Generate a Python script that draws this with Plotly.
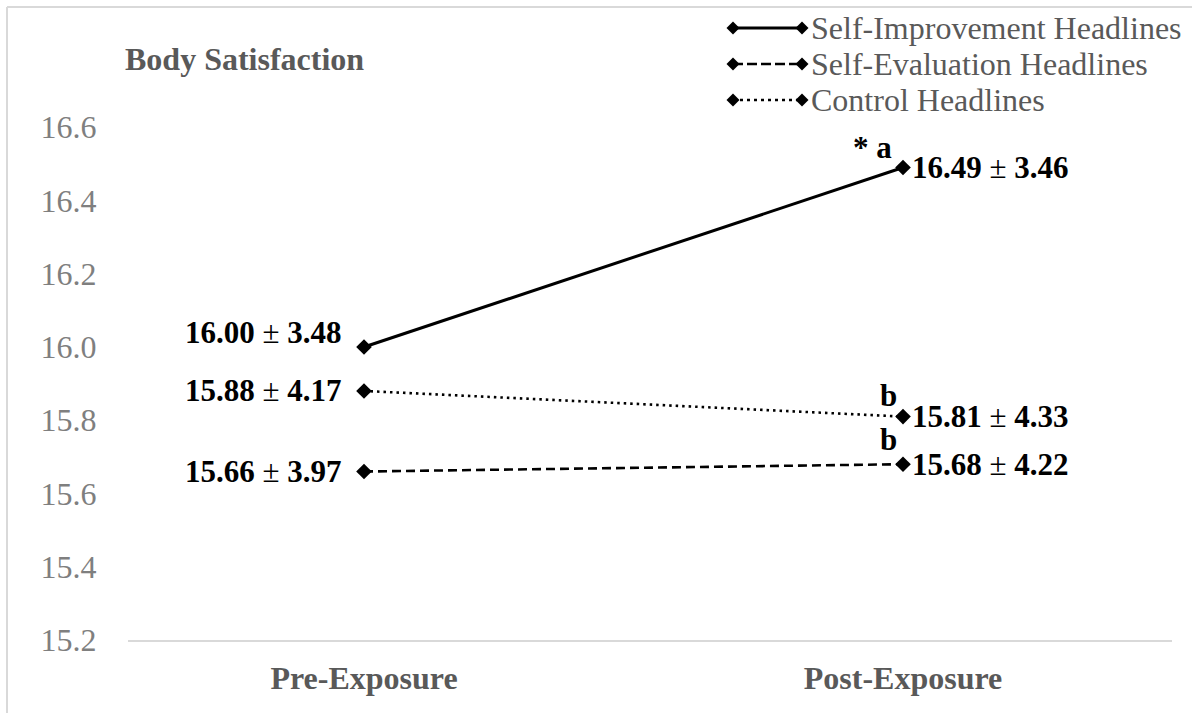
import plotly.graph_objects as go

# ---- data ----
categories = ["Pre-Exposure", "Post-Exposure"]
series_names = ["Self-Improvement Headlines", "Self-Evaluation Headlines", "Control Headlines"]
self_improvement = [16.00, 16.49]
self_evaluation = [15.66, 15.68]
control = [15.88, 15.81]
sd_self_improvement = [3.48, 3.46]
sd_self_evaluation = [3.97, 4.22]
sd_control = [4.17, 4.33]
y_ticks = [15.2, 15.4, 15.6, 15.8, 16.0, 16.2, 16.4, 16.6]
y_title = "Body Satisfaction"

W, H = 1192, 713
ML, MR, MT, MB = 128, 20, 54, 73
PW, PH = W - ML - MR, H - MT - MB

def px(xp):
    return (xp - ML) / PW

def py(yp):
    return (H - MB - yp) / PH

FONT = "Liberation Serif, Times New Roman, serif"
FS = 32

xpos = [0, 1]
series = [
    (self_improvement, sd_self_improvement, "solid"),
    (self_evaluation, sd_self_evaluation, "9px,5px"),
    (control, sd_control, "2.5px,4px"),
]

fig = go.Figure()
for (vals, sds, dash), name in zip(series, series_names):
    fig.add_trace(go.Scatter(
        x=xpos, y=vals, mode="lines+markers", name=name,
        line=dict(color="black", width=3 if dash == "solid" else 2.6, dash=dash),
        marker=dict(symbol="diamond", size=12, color="black"),
        showlegend=False, hoverinfo="skip"))

annotations = []
# data labels
pre_yshift = [15, 0, 0]
for (vals, sds, dash), ys in zip(series, pre_yshift):
    annotations.append(dict(
        x=xpos[0], y=vals[0], xref="x", yref="y", xanchor="right", yanchor="middle",
        xshift=-20, yshift=ys, showarrow=False,
        text=f"<b>{vals[0]:.2f}</b> ± <b>{sds[0]:.2f}</b>",
        font=dict(family=FONT, size=FS - 1, color="black")))
    annotations.append(dict(
        x=xpos[1], y=vals[1], xref="x", yref="y", xanchor="left", yanchor="middle",
        xshift=7, yshift=0, showarrow=False,
        text=f"<b>{vals[1]:.2f}</b> ± <b>{sds[1]:.2f}</b>",
        font=dict(family=FONT, size=FS - 1, color="black")))

# significance markers
annotations.append(dict(x=xpos[1], y=self_improvement[1], xref="x", yref="y",
                        xanchor="center", yanchor="middle", xshift=-31, yshift=20,
                        showarrow=False, text="<b>* a</b>",
                        font=dict(family=FONT, size=FS - 1, color="black")))
annotations.append(dict(x=xpos[1], y=control[1], xref="x", yref="y",
                        xanchor="center", yanchor="middle", xshift=-15, yshift=21,
                        showarrow=False, text="<b>b</b>",
                        font=dict(family=FONT, size=FS - 1, color="black")))
annotations.append(dict(x=xpos[1], y=self_evaluation[1], xref="x", yref="y",
                        xanchor="center", yanchor="middle", xshift=-15, yshift=25,
                        showarrow=False, text="<b>b</b>",
                        font=dict(family=FONT, size=FS - 1, color="black")))

# y title
annotations.append(dict(x=px(123), y=py(59), xref="paper", yref="paper",
                        xanchor="left", yanchor="middle", showarrow=False,
                        text=f"<b>{y_title}</b>",
                        font=dict(family=FONT, size=FS, color="#595959")))

shapes = []
# legend
leg_rows = [28, 64, 100]
leg_dash = ["solid", "10px,4px", "3px,4px"]
for name, row, d in zip(series_names, leg_rows, leg_dash):
    shapes.append(dict(type="line", xref="paper", yref="paper",
                       x0=px(733), x1=px(802), y0=py(row), y1=py(row),
                       line=dict(color="black", width=3 if d == "solid" else 2.6, dash=d)))
    for cx in (733, 802):
        hw, hh = 6.5, 6.5
        path = (f"M {px(cx-hw)},{py(row)} L {px(cx)},{py(row-hh)} "
                f"L {px(cx+hw)},{py(row)} L {px(cx)},{py(row+hh)} Z")
        shapes.append(dict(type="path", xref="paper", yref="paper", path=path,
                           fillcolor="black", line=dict(width=0)))
    annotations.append(dict(x=px(809), y=py(row), xref="paper", yref="paper",
                            xanchor="left", yanchor="middle", showarrow=False,
                            text=name, font=dict(family=FONT, size=FS, color="#595959")))

# frame lines
shapes.append(dict(type="line", xref="paper", yref="paper",
                   x0=px(7), x1=px(7), y0=py(7), y1=py(H + 5),
                   line=dict(color="#d9d9d9", width=2)))
shapes.append(dict(type="line", xref="paper", yref="paper",
                   x0=px(7), x1=px(W + 5), y0=py(7), y1=py(7),
                   line=dict(color="#d9d9d9", width=2)))

fig.update_layout(
    width=W, height=H, margin=dict(l=ML, r=MR, t=MT, b=MB, pad=0),
    paper_bgcolor="white", plot_bgcolor="white",
    annotations=annotations, shapes=shapes, showlegend=False,
    xaxis=dict(range=[(128 - 364) / 539, (1172 - 364) / 539],
               tickvals=xpos, ticktext=[f"<b>{c}</b>" for c in categories],
               showgrid=False, zeroline=False, showline=True, linecolor="#d9d9d9", linewidth=2,
               ticks="outside", ticklen=9, tickcolor="rgba(0,0,0,0)",
               tickfont=dict(family=FONT, size=FS, color="#595959")),
    yaxis=dict(range=[15.2, 16.8], tickvals=y_ticks, ticktext=[f"{v:.1f}" for v in y_ticks],
               showgrid=False, zeroline=False, showline=False,
               ticks="outside", ticklen=24, tickcolor="rgba(0,0,0,0)",
               tickfont=dict(family=FONT, size=FS, color="#7f7f7f")),
)

fig.write_html(
    "out.html",
    config={"displayModeBar": False, "staticPlot": True},
    post_script="document.body.style.margin='0';document.body.style.overflow='hidden';"
                "document.documentElement.style.overflow='hidden';",
)
